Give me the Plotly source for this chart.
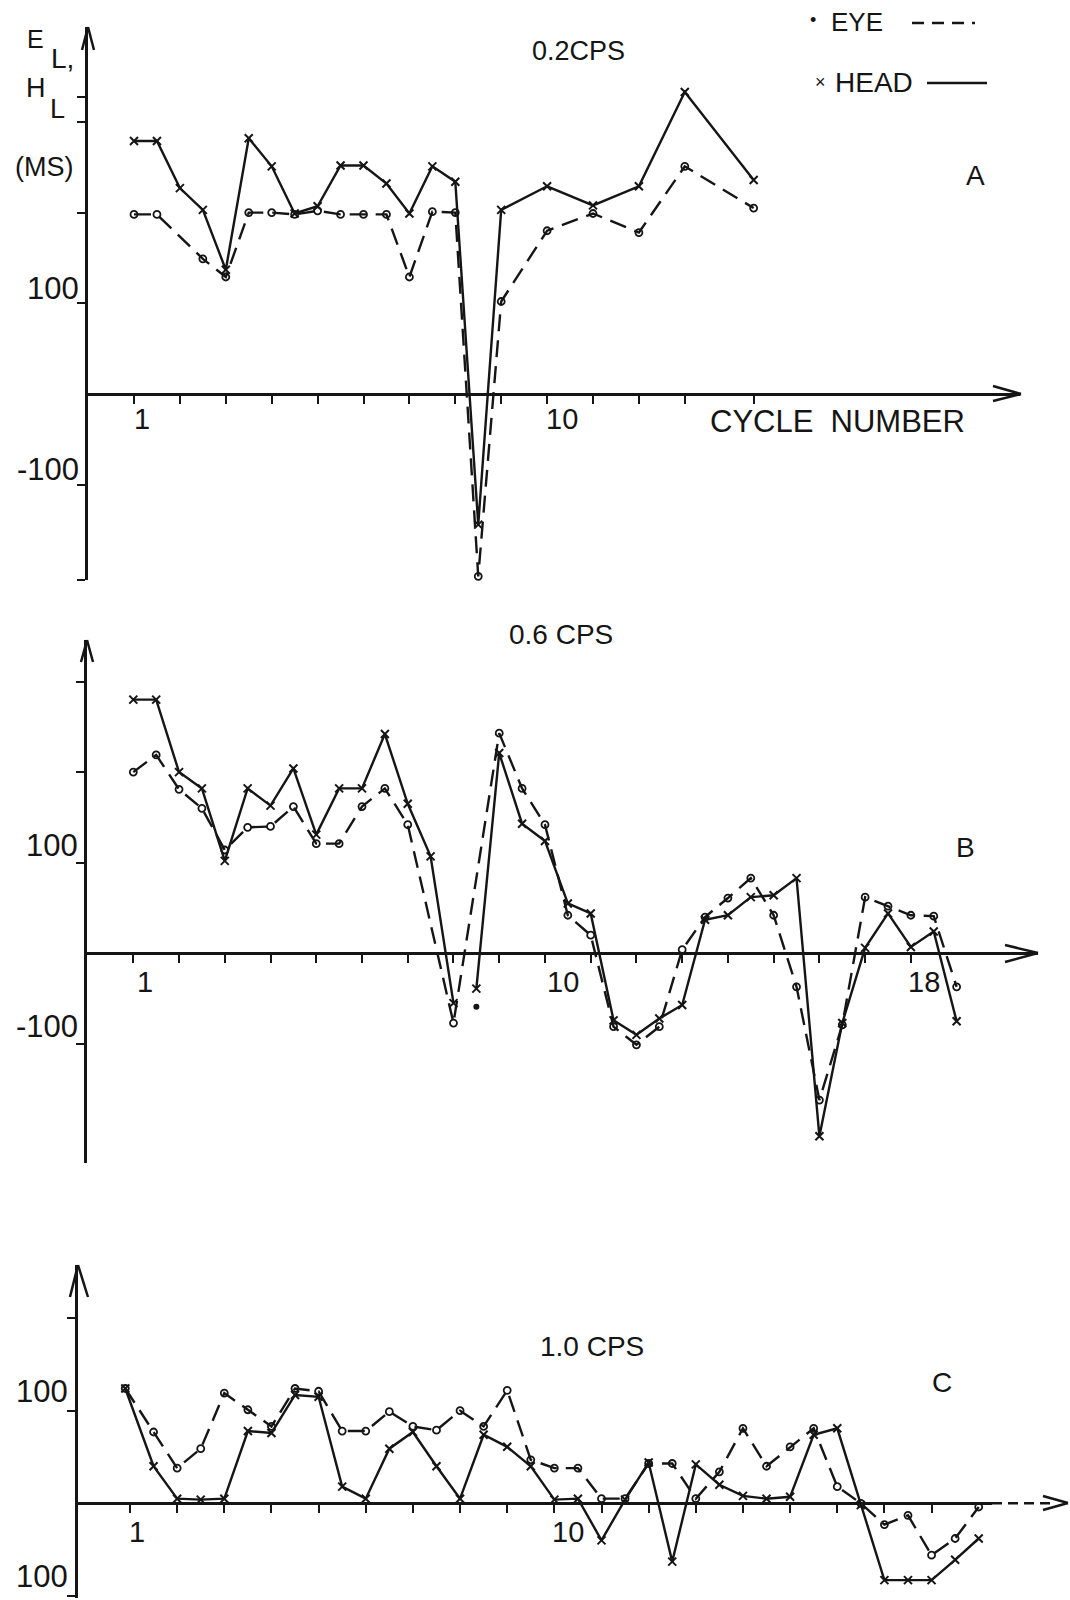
import plotly.graph_objects as go

W, H = 1070, 1600

# ---------------- data (cycle number, latency in ms) ----------------
# Panel A : 0.2 CPS
head_a_x = [1, 1.5, 2, 2.5, 3, 3.5, 4, 4.5, 5, 5.5, 6, 6.5, 7, 7.5, 8, 8.5, 9, 10, 11, 12, 13, 14.5]
head_a_y = [279, 279, 227, 203, 137, 282, 251, 199, 207, 252, 252, 232, 199, 251, 234, -144, 203, 229, 208, 229, 333, 236]
eye_a_x = [1, 1.5, 2.5, 3, 3.5, 4, 4.5, 5, 5.5, 6, 6.5, 7, 7.5, 8, 8.5, 9, 10, 11, 12, 13, 14.5]
eye_a_y = [198, 198, 149, 129, 200, 200, 198, 202, 198, 198, 198, 129, 201, 200, -201, 102, 180, 199, 178, 251, 205]

# Panel B : 0.6 CPS
head_b_x = [1, 1.5, 2, 2.5, 3, 3.5, 4, 4.5, 5, 5.5, 6, 6.5, 7, 7.5, 8, None, 8.5, 9, 9.5, 10,
            10.5, 11, 11.5, 12, 12.5, 13, 13.5, 14, 14.5, 15, 15.5, 16, 16.5, 17, 17.5, 18, 18.5, 19]
head_b_y = [280, 280, 200, 182, 102, 182, 163, 204, 131, 182, 182, 242, 165, 107, -55, None, -39, 221, 143, 124,
            55, 44, -74, -90, -72, -57, 37, 42, 62, 64, 83, -202, -77, 6, 44, 7, 24, -75]
eye_b_x = [1, 1.5, 2, 2.5, 3, 3.5, 4, 4.5, 5, 5.5, 6, 6.5, 7, 8, 9, 9.5, 10,
           10.5, 11, 11.5, 12, 12.5, 13, 13.5, 14, 14.5, 15, 15.5, 16, 16.5, 17, 17.5, 18, 18.5, 19]
eye_b_y = [200, 219, 181, 160, 114, 139, 140, 162, 121, 121, 162, 182, 142, -77, 243, 182, 142,
           42, 20, -81, -101, -81, 4, 40, 61, 83, 42, -37, -162, -79, 62, 52, 42, 41, -37]
eye_b_lone_x = [8.5]
eye_b_lone_y = [-59]

# Panel C : 1.0 CPS
head_c_x = [0.9, 1.5, 2, 2.5, 3, 3.5, 4, 4.5, 5, 5.5, 6, 6.5, 7, 7.5, 8, 8.5, 9, 9.5, 10,
            10.5, 11, 11.5, 12, 12.5, 13, 13.5, 14, 14.5, 15, 15.5, 16, 16.5, 17, 17.5, 18, 18.5, 19]
head_c_y = [124, 40, 5, 4, 5, 78, 76, 117, 115, 18, 5, 59, 77, 40, 5, 74, 61, 40, 4,
            5, -40, 4, 44, -63, 42, 20, 8, 5, 7, 74, 81, -2, -83, -83, -83, -61, -38]
eye_c_x = [0.9, 1.5, 2, 2.5, 3, 3.5, 4, 4.5, 5, 5.5, 6, 6.5, 7, 7.5, 8, 8.5, 9, 9.5, 10,
           10.5, 11, 11.5, 12, 12.5, 13, 13.5, 14, 14.5, 15, 15.5, 16, 16.5, 17, 17.5, 18, 18.5, 19]
eye_c_y = [124, 77, 38, 59, 119, 101, 83, 124, 121, 78, 78, 99, 83, 79, 100, 83, 122, 47, 38,
           38, 5, 5, 43, 43, 5, 34, 81, 40, 61, 81, 18, 0, -23, -13, -56, -38, -4]

# tick positions / labels
xticks_a = [1, 2, 3, 4, 5, 6, 7, 8, 9, 10, 11, 12, 13, 14.5]
xticks_b = list(range(1, 19))
xticks_c = list(range(1, 19))
yticks_a = [-205, -100, 100, 200, 300, 327]
yticks_b = [-100, 100, 200, 300]
yticks_c = [-100, 100, 200]
xlabels_a = [(1, "1", 8), (10, "10", 15)]
xlabels_b = [(1, "1", 12), (10, "10", 18), (18, "18", 13)]
xlabels_c = [(1, "1", 7), (10, "10", 14)]
ylabels_a = [(100, "100"), (-100, "-100")]
ylabels_b = [(100, "100"), (-100, "-100")]
ylabels_c = [(100, "100"), (-100, "100")]

# ---------------- geometry (pixels) ----------------
geo = {
    "A": dict(x0=88, x1=1020, top=27, bot=580, zero=394, pp100=90.7, c1=134, ppc=45.9, lab_y=419, lab_r=81),
    "B": dict(x0=87, x1=1038, top=640, bot=1163, zero=953.3, pp100=90.6, c1=133.3, ppc=45.74, lab_y=982, lab_r=80),
    "C": dict(x0=78, x1=992, top=1265, bot=1598, zero=1503.3, pp100=92.6, c1=130, ppc=47.15, lab_y=1532, lab_r=70),
}

INK = "#151515"
FONT = "Liberation Sans, Arial, Helvetica, sans-serif"


def px(x):
    return x / W


def py(y):
    return 1 - y / H


def ranges(g):
    cx = lambda p: 1 + (p - g["c1"]) / g["ppc"]
    vy = lambda p: (g["zero"] - p) / g["pp100"] * 100
    return [cx(g["x0"]), cx(g["x1"])], [vy(g["bot"]), vy(g["top"])]


fig = go.Figure()

panels = [
    ("A", "x", "y", "", head_a_x, head_a_y, eye_a_x, eye_a_y, xticks_a, yticks_a, xlabels_a, ylabels_a, 15),
    ("B", "x2", "y2", "2", head_b_x, head_b_y, eye_b_x, eye_b_y, xticks_b, yticks_b, xlabels_b, ylabels_b, 17),
    ("C", "x3", "y3", "3", head_c_x, head_c_y, eye_c_x, eye_c_y, xticks_c, yticks_c, xlabels_c, ylabels_c, 19),
]

annotations = []
layout_axes = {}
for name, xa, ya, sfx, hx, hy, ex, ey, xt, yt, xl, yl, ysh in panels:
    g = geo[name]
    xr, yr = ranges(g)
    fig.add_trace(go.Scatter(
        x=ex, y=ey, mode="lines+markers", xaxis=xa, yaxis=ya, showlegend=False,
        line=dict(color=INK, width=2.4, dash="17px,9px"),
        marker=dict(symbol="circle-open", size=7, color=INK, line=dict(width=1.8, color=INK)),
        cliponaxis=False, connectgaps=False))
    fig.add_trace(go.Scatter(
        x=hx, y=hy, mode="lines+markers", xaxis=xa, yaxis=ya, showlegend=False,
        line=dict(color=INK, width=2.4),
        marker=dict(symbol="x-thin-open", size=8, color=INK, line=dict(width=2, color=INK)),
        cliponaxis=False, connectgaps=False))
    layout_axes["xaxis" + sfx] = dict(
        domain=[px(g["x0"]), px(g["x1"])], range=xr, anchor="free", position=py(g["zero"]),
        showline=True, linecolor=INK, linewidth=2.5, ticks="outside", tickvals=xt,
        ticklen=8, tickwidth=2, tickcolor=INK, showticklabels=False, showgrid=False,
        zeroline=False, fixedrange=True)
    layout_axes["yaxis" + sfx] = dict(
        domain=[py(g["bot"]), py(g["top"])], range=yr, anchor=xa,
        showline=True, linecolor=INK, linewidth=2.5, ticks="outside", tickvals=yt,
        ticklen=8, tickwidth=2, tickcolor=INK, showticklabels=False, showgrid=False,
        zeroline=False, fixedrange=True)
    for val, txt, shift in xl:
        annotations.append(dict(x=val, xref=xa, y=py(g["lab_y"]), yref="paper", text=txt,
                                xanchor="center", yanchor="middle",
                                showarrow=False, xshift=shift, font=dict(size=29, color=INK, family=FONT)))
    for val, txt in yl:
        annotations.append(dict(x=px(g["lab_r"]), xref="paper", y=val, yref=ya, text=txt,
                                xanchor="right", yanchor="middle", showarrow=False, yshift=ysh,
                                font=dict(size=31, color=INK, family=FONT)))

# lone eye point in panel B
fig.add_trace(go.Scatter(x=eye_b_lone_x, y=eye_b_lone_y, mode="markers", xaxis="x2", yaxis="y2",
                         showlegend=False, marker=dict(symbol="circle", size=6, color=INK), cliponaxis=False))


def text(x, y, s, size, anchor="center"):
    annotations.append(dict(x=px(x), y=py(y), xref="paper", yref="paper", text=s, showarrow=False,
                            xanchor=anchor, yanchor="middle", font=dict(size=size, color=INK, family=FONT)))


# titles and letters
text(578, 51, "0.2CPS", 27)
text(561, 634, "0.6 CPS", 28)
text(592, 1346, "1.0 CPS", 28)
text(976, 175, "A", 28)
text(965, 847, "B", 28)
text(942, 1382, "C", 28)
text(837, 421, "CYCLE  NUMBER", 31)
# axis label
text(35, 39, "E", 25)
text(62, 58, "L,", 28)
text(36, 88, "H", 27)
text(57, 109, "L", 27)
text(44, 167, "(MS)", 27)
# legend
text(813, 20, "•", 18)
text(857, 22, "EYE", 26)
text(820, 82, "×", 18)
text(874, 82, "HEAD", 28)

shapes = []


def seg(x0, y0, x1, y1, dash="solid", w=2.5):
    shapes.append(dict(type="line", xref="paper", yref="paper", x0=px(x0), y0=py(y0), x1=px(x1), y1=py(y1),
                       line=dict(color=INK, width=w, dash=dash)))


# legend line samples
seg(912, 23, 975, 23, dash="12px,8px", w=2.5)
seg(927, 83, 987, 83, w=2.5)
# y-axis arrowheads
seg(88, 27, 82, 50); seg(88, 27, 94, 50)
seg(87, 640, 81, 662); seg(87, 640, 93, 662)
seg(78, 1265, 70, 1297); seg(78, 1265, 88, 1297)
# x-axis arrowheads
seg(1021, 394, 993, 386); seg(1021, 394, 993, 401)
seg(1038, 953, 1005, 945); seg(1038, 953, 1005, 962)
seg(992, 1503.3, 1050, 1503.3, dash="10px,6px")
seg(1068, 1503, 1043, 1496); seg(1068, 1503, 1043, 1510)

fig.update_layout(
    width=W, height=H, margin=dict(l=0, r=0, t=0, b=0),
    paper_bgcolor="white", plot_bgcolor="white",
    annotations=annotations, shapes=shapes, showlegend=False,
    **layout_axes)

fig.write_html("out.html", post_script="document.body.style.margin='0';")
